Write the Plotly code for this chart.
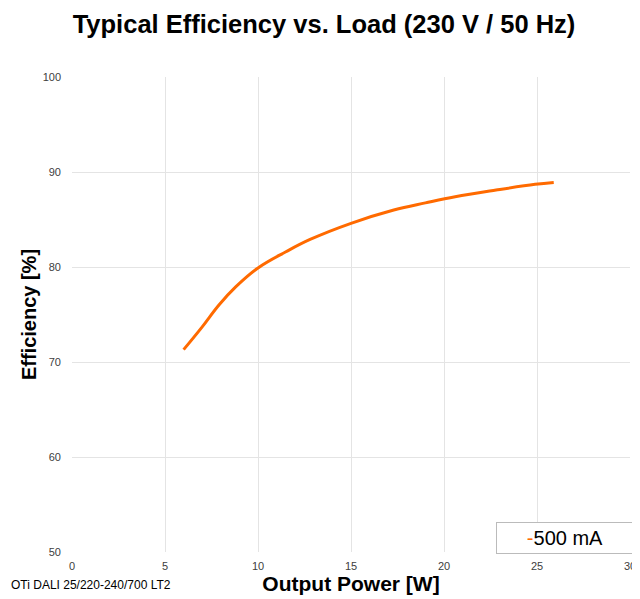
import plotly.graph_objects as go

power_w = [6.0, 7.0, 7.9, 8.8, 10.0, 11.5, 12.8, 15.0, 17.3, 19.0, 20.6, 22.8, 24.9, 25.9]
efficiency_pct = [71.3, 73.7, 76.0, 77.9, 79.9, 81.6, 82.9, 84.6, 86.0, 86.75, 87.4, 88.1, 88.7, 88.9]
series_name = "500 mA"
x_ticks = [0, 5, 10, 15, 20, 25, 30]
y_ticks = [50, 60, 70, 80, 90, 100]
line_color = "#FF6A00"

fig = go.Figure()
fig.add_trace(go.Scatter(
    x=power_w, y=efficiency_pct, mode="lines", name=series_name,
    line=dict(color=line_color, width=3, shape="spline", smoothing=1.1),
    showlegend=False,
))

font_family = "Liberation Sans, Arial, sans-serif"
fig.update_layout(
    width=632, height=591,
    margin=dict(l=64, r=4, t=69, b=47),
    paper_bgcolor="white", plot_bgcolor="white",
    font=dict(family=font_family, color="#404040"),
    title=dict(text="<b>Typical Efficiency vs. Load (230 V / 50 Hz)</b>",
               x=0.5, xanchor="center", y=0.972, yanchor="middle",
               font=dict(size=25.5, color="black", family=font_family)),
    xaxis=dict(range=[0, 30], tickvals=x_ticks, showgrid=True,
               gridcolor="#E4E4E4", gridwidth=1, zeroline=False,
               showline=False, ticks="", ticklabelstandoff=6,
               ticklabeloverflow="allow",
               tickfont=dict(size=11, color="#404040"),
               title=dict(text="<b>Output Power [W]</b>", standoff=4,
                          font=dict(size=21, color="black"))),
    yaxis=dict(range=[50, 100], tickvals=y_ticks, showgrid=True,
               gridcolor="#E4E4E4", gridwidth=1, zeroline=False,
               showline=False, ticks="", ticklabelstandoff=10,
               tickfont=dict(size=11, color="#404040"),
               title=dict(text="<b>Efficiency [%]</b>", standoff=0,
                          font=dict(size=20, color="black"))),
)
fig.add_annotation(
    text=f"<span style='color:{line_color}'>-</span>{series_name}",
    xref="paper", yref="paper", x=1.007, xanchor="right", y=-0.004, yanchor="bottom",
    showarrow=False, bgcolor="white", bordercolor="#BBBBBB", borderwidth=1,
    width=134, height=28, align="center",
    font=dict(size=20, color="black"))
fig.add_annotation(text="OTi DALI 25/220-240/700 LT2", xref="paper", yref="paper",
                   x=-0.1135, xanchor="left", y=-0.07, yanchor="middle",
                   showarrow=False, font=dict(size=12, color="black"))
fig.write_html("out.html")
